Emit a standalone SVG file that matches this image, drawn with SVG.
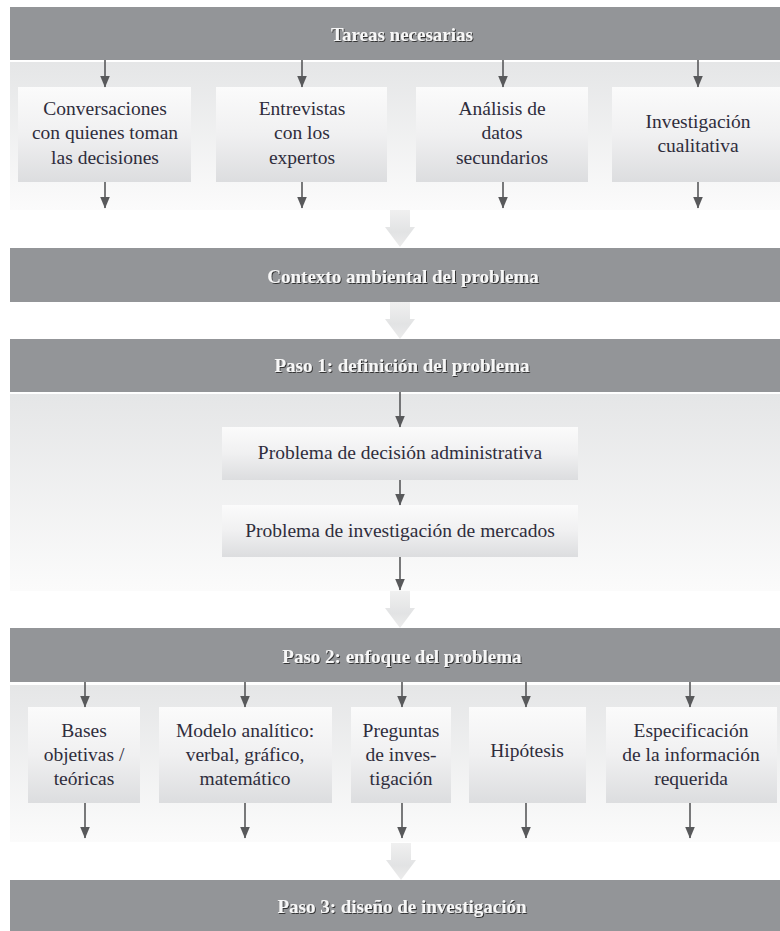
<svg xmlns="http://www.w3.org/2000/svg" width="780" height="931" viewBox="0 0 780 931">
<defs>
<linearGradient id="gPanel" x1="0" y1="0" x2="0" y2="1">
<stop offset="0" stop-color="#e5e6e7"/><stop offset="1" stop-color="#fbfbfb"/>
</linearGradient>
<linearGradient id="gBox" x1="0" y1="0" x2="0" y2="1">
<stop offset="0" stop-color="#fbfbfb"/><stop offset="0.5" stop-color="#f0f0f1"/><stop offset="1" stop-color="#dcdddf"/>
</linearGradient>
<linearGradient id="gBig" x1="0" y1="0" x2="0" y2="1">
<stop offset="0" stop-color="#f0f0f0"/><stop offset="0.6" stop-color="#e2e3e4"/><stop offset="1" stop-color="#ececec"/>
</linearGradient>
<filter id="shadow" x="-5%" y="-30%" width="110%" height="160%">
<feDropShadow dx="1" dy="1" stdDeviation="0.6" flood-color="#2b2b2b" flood-opacity="0.9"/>
</filter>
<marker id="ah" viewBox="0 0 12 10" refX="11.5" refY="5" markerWidth="12" markerHeight="10" markerUnits="userSpaceOnUse" orient="auto">
<path d="M0,0 L12,5 L0,10 z" fill="#58595b"/>
</marker>
<path id="bigArrow" d="M-10,0 H10 V17 H15 L0,37 L-15,17 H-10 z"/>
</defs>
<style>
.bar{fill:#939598}
.panel{fill:url(#gPanel)}
.box{fill:url(#gBox)}
.title{font-family:"Liberation Serif","Times New Roman",serif;font-weight:bold;font-size:19px;fill:#f7f7f7;text-anchor:middle;filter:url(#shadow)}
.lbl{font-family:"Liberation Serif","Times New Roman",serif;font-size:19.5px;fill:#2f2d3c;text-anchor:middle}
.conn line{stroke:#58595b;stroke-width:1.6;marker-end:url(#ah)}
.big{fill:url(#gBig)}
</style>
<rect width="780" height="931" fill="#ffffff"/>

<!-- panels -->
<g id="panels">
<rect class="panel" x="10" y="62" width="770" height="148"/>
<rect class="panel" x="10" y="394" width="770" height="197"/>
<rect class="panel" x="10" y="685" width="770" height="157"/>
</g>

<!-- big transition arrows -->
<g id="bigArrows">
<use href="#bigArrow" class="big" x="400" y="210"/>
<use href="#bigArrow" class="big" x="400" y="302"/>
<use href="#bigArrow" class="big" x="400" y="591"/>
<use href="#bigArrow" class="big" x="401" y="843"/>
</g>

<g id="bar-tareas"><rect class="bar" x="10" y="7" width="770" height="53"/><text class="title" x="402" y="41">Tareas necesarias</text></g>

<g id="n-conversaciones"><rect class="box" x="18" y="87" width="173" height="95"/>
<text class="lbl" x="105" y="115">Conversaciones</text><text class="lbl" x="105" y="139">con quienes toman</text><text class="lbl" x="105" y="164">las decisiones</text></g>
<g id="n-entrevistas"><rect class="box" x="216" y="87" width="171" height="95"/>
<text class="lbl" x="302" y="115">Entrevistas</text><text class="lbl" x="302" y="139">con los</text><text class="lbl" x="302" y="164">expertos</text></g>
<g id="n-analisis"><rect class="box" x="416" y="87" width="172" height="95"/>
<text class="lbl" x="502" y="115">Análisis de</text><text class="lbl" x="502" y="139">datos</text><text class="lbl" x="502" y="164">secundarios</text></g>
<g id="n-cualitativa"><rect class="box" x="612" y="87" width="168" height="95"/>
<text class="lbl" x="698" y="128">Investigación</text><text class="lbl" x="698" y="152">cualitativa</text></g>

<g id="bar-contexto"><rect class="bar" x="10" y="248" width="770" height="54"/><text class="title" x="403" y="283">Contexto ambiental del problema</text></g>

<g id="bar-paso1"><rect class="bar" x="10" y="339" width="770" height="53"/><text class="title" x="402" y="372">Paso 1: definición del problema</text></g>

<g id="n-decision"><rect class="box" x="222" y="427" width="356" height="53"/><text class="lbl" x="400" y="459">Problema de decisión administrativa</text></g>
<g id="n-mercados"><rect class="box" x="222" y="505" width="356" height="52"/><text class="lbl" x="400" y="537">Problema de investigación de mercados</text></g>

<g id="bar-paso2"><rect class="bar" x="10" y="628" width="770" height="54"/><text class="title" x="402" y="663">Paso 2: enfoque del problema</text></g>

<g id="n-bases"><rect class="box" x="28" y="707" width="112" height="96"/>
<text class="lbl" x="84" y="737">Bases</text><text class="lbl" x="84" y="761">objetivas /</text><text class="lbl" x="84" y="785">teóricas</text></g>
<g id="n-modelo"><rect class="box" x="159" y="707" width="173" height="96"/>
<text class="lbl" x="245" y="737">Modelo analítico:</text><text class="lbl" x="245" y="761">verbal, gráfico,</text><text class="lbl" x="245" y="785">matemático</text></g>
<g id="n-preguntas"><rect class="box" x="351" y="707" width="100" height="96"/>
<text class="lbl" x="401" y="737">Preguntas</text><text class="lbl" x="401" y="761">de inves-</text><text class="lbl" x="401" y="785">tigación</text></g>
<g id="n-hipotesis"><rect class="box" x="469" y="707" width="117" height="96"/>
<text class="lbl" x="527" y="757">Hipótesis</text></g>
<g id="n-especificacion"><rect class="box" x="606" y="707" width="171" height="96"/>
<text class="lbl" x="691" y="737">Especificación</text><text class="lbl" x="691" y="761">de la información</text><text class="lbl" x="691" y="785">requerida</text></g>

<g id="bar-paso3"><rect class="bar" x="10" y="880" width="770" height="51"/><text class="title" x="402" y="913">Paso 3: diseño de investigación</text></g>

<g id="connectors" class="conn">
<line x1="105" y1="60" x2="105" y2="87"/>
<line x1="302" y1="60" x2="302" y2="87"/>
<line x1="503" y1="60" x2="503" y2="87"/>
<line x1="698" y1="60" x2="698" y2="87"/>
<line x1="105" y1="182" x2="105" y2="208"/>
<line x1="302" y1="182" x2="302" y2="208"/>
<line x1="503" y1="182" x2="503" y2="208"/>
<line x1="698" y1="182" x2="698" y2="208"/>
<line x1="400" y1="392" x2="400" y2="427"/>
<line x1="400" y1="480" x2="400" y2="505"/>
<line x1="400" y1="557" x2="400" y2="590"/>
<line x1="85" y1="682" x2="85" y2="707"/>
<line x1="245" y1="682" x2="245" y2="707"/>
<line x1="402" y1="682" x2="402" y2="707"/>
<line x1="526" y1="682" x2="526" y2="707"/>
<line x1="690" y1="682" x2="690" y2="707"/>
<line x1="85" y1="803" x2="85" y2="838"/>
<line x1="245" y1="803" x2="245" y2="838"/>
<line x1="402" y1="803" x2="402" y2="838"/>
<line x1="526" y1="803" x2="526" y2="838"/>
<line x1="690" y1="803" x2="690" y2="838"/>
</g>
</svg>
